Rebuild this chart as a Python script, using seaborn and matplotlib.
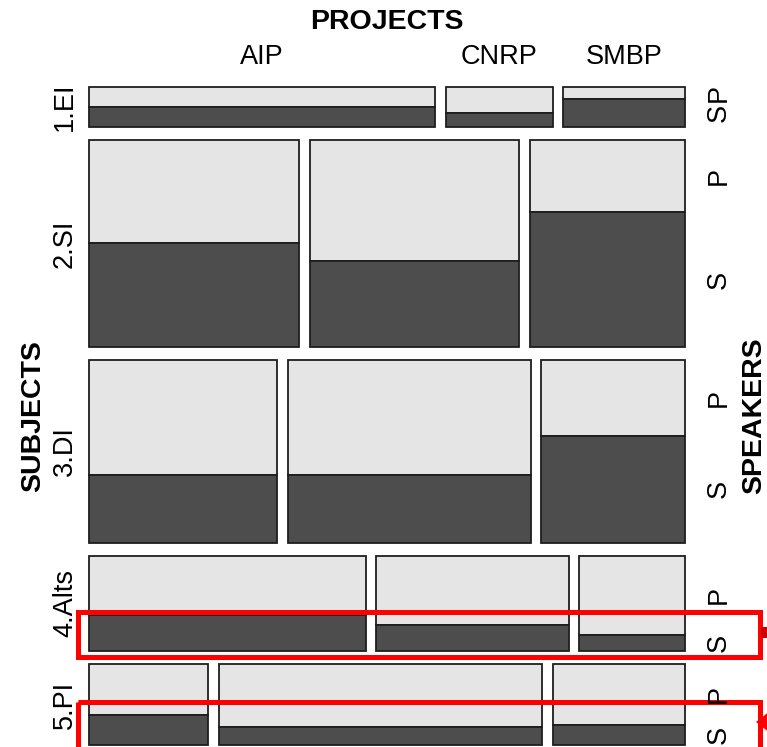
import numpy as np
import matplotlib
matplotlib.use("Agg")
import matplotlib.pyplot as plt
import seaborn as sns
from matplotlib.patches import Rectangle, Polygon

# mosaic data: SUBJECTS (rows) x PROJECTS (columns) x SPEAKERS (S / P split)
subjects = ["1.EI", "2.SI", "3.DI", "4.Alts", "5.PI"]
projects = ["AIP", "CNRP", "SMBP"]
speakers = ["S", "P"]

# share of each subject in the total
subject_share = [0.066, 0.342, 0.302, 0.157, 0.134]

# share of each project within a subject
project_share = [
    [0.602, 0.186, 0.212],
    [0.366, 0.364, 0.270],
    [0.327, 0.423, 0.250],
    [0.481, 0.335, 0.184],
    [0.208, 0.564, 0.231],
]

# share of speaker "S" within each subject/project cell (rest is "P")
s_share = [
    [0.50, 0.35, 0.70],
    [0.50, 0.415, 0.652],
    [0.37, 0.37, 0.585],
    [0.38, 0.27, 0.17],
    [0.37, 0.22, 0.25],
]

sns.set_style("white")
plt.rcParams['font.family'] = ['Liberation Sans', 'DejaVu Sans']
plt.rcParams['text.color'] = 'black'

W, H = 767, 747
fig = plt.figure(figsize=(W / 100, H / 100), dpi=100)
ax = fig.add_axes([0, 0, 1, 1])
ax.set_xlim(0, W)
ax.set_ylim(H, 0)
ax.axis('off')

left, right, top, bottom = 89, 685, 87, 745
xgap, ygap = 10.5, 13
light, dark, edge = '#e5e5e5', '#4d4d4d', '#1e1e1e'
lab_size, title_size = 19.5, 20.5

row_sh = np.array(subject_share) / sum(subject_share)
heights = row_sh * ((bottom - top) - ygap * (len(subjects) - 1))
avail_w = (right - left) - xgap * (len(projects) - 1)

y = top
for i, subj in enumerate(subjects):
    h = heights[i]
    ps = np.array(project_share[i])
    widths = ps / ps.sum() * avail_w
    x = left
    for j, proj in enumerate(projects):
        w = widths[j]
        sh = s_share[i][j] * h
        ph = h - sh
        ax.bar(x, ph, width=w, bottom=y, align='edge', color=light,
               edgecolor=edge, linewidth=1.3)
        ax.bar(x, sh, width=w, bottom=y + ph, align='edge', color=dark,
               edgecolor=edge, linewidth=1.3)
        if i == 0:
            ax.text(x + w / 2, 57, proj, ha='center', va='center', fontsize=lab_size)
        if j == len(projects) - 1:
            ax.text(719, y + ph / 2, speakers[1], rotation=90,
                    ha='center', va='center', fontsize=lab_size)
            ax.text(719, y + ph + sh / 2, speakers[0], rotation=90,
                    ha='center', va='center', fontsize=lab_size)
        x += w + xgap
    ax.text(65, y + h / 2, subj, rotation=90, ha='center', va='center', fontsize=lab_size)
    y += h + ygap

mid_x = (left + right) / 2
mid_y = (top + bottom) / 2
ax.text(mid_x, 22, 'PROJECTS', ha='center', va='center', fontsize=title_size, fontweight='bold')
ax.text(33, mid_y, 'SUBJECTS', rotation=90, ha='center', va='center',
        fontsize=title_size, fontweight='bold')
ax.text(754, mid_y, 'SPEAKERS', rotation=90, ha='center', va='center',
        fontsize=title_size, fontweight='bold')

# red highlight boxes over the S band of 4.Alts and 5.PI
for y0, hh in [(612, 45), (702, 60)]:
    ax.add_patch(Rectangle((78, y0), 682, hh, fill=False, edgecolor='red',
                           linewidth=3.6, clip_on=False))
# pointers coming in from the right edge (cut off)
ax.add_patch(Rectangle((761, 627), 10, 11, color='#cc0000', linewidth=0))
ax.add_patch(Polygon([(756, 722), (770, 711), (770, 733)], closed=True,
                     color='red', linewidth=0))

fig.savefig('out.png', dpi=100)
